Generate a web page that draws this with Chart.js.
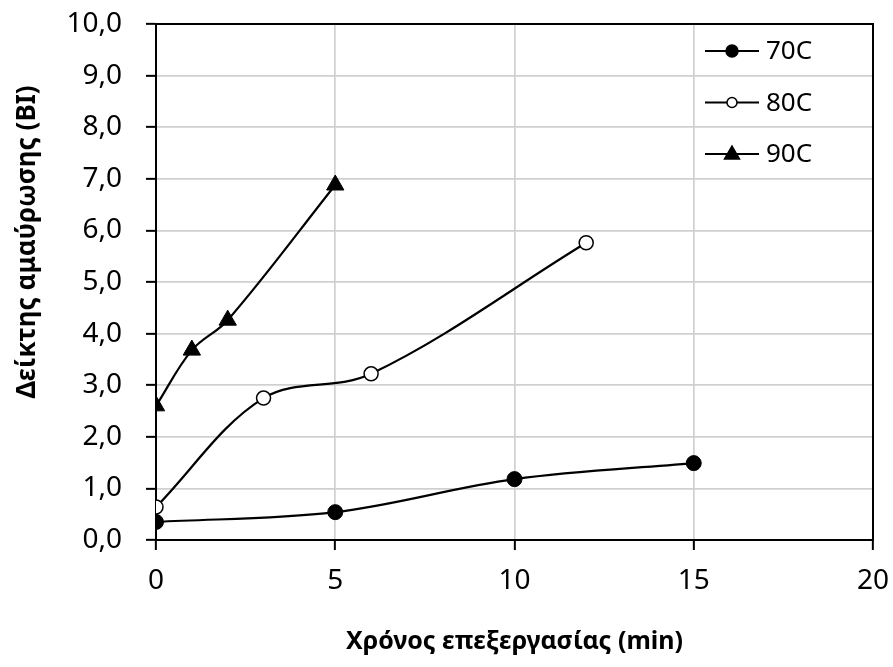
<!DOCTYPE html>
<html>
<head>
<meta charset="utf-8">
<script src="https://cdn.jsdelivr.net/npm/chart.js@4.4.1/dist/chart.umd.min.js"></script>
<style>
  html, body { margin: 0; padding: 0; background: #ffffff; }
  #wrap { width: 893px; height: 667px; }
</style>
</head>
<body>
<div id="wrap"><canvas id="grafico"></canvas></div>
<script>
// Datos
const tiempos70 = [0, 5, 10, 15];
const valores70 = [0.35, 0.54, 1.18, 1.49];
const tiempos80 = [0, 3, 6, 12];
const valores80 = [0.64, 2.75, 3.22, 5.76];
const tiempos90 = [0, 1, 2, 5];
const valores90 = [2.6, 3.68, 4.26, 6.88];
const etiquetas = ["70C", "80C", "90C"];
const tituloY = "Δείκτης αμαύρωσης (BI)";
const tituloX = "Χρόνος επεξεργασίας (min)";

const fuente = "'Noto Sans', sans-serif";

function puntos(xs, ys) {
  return xs.map((x, i) => ({ x: x, y: ys[i] }));
}

document.addEventListener("DOMContentLoaded", function () {
  const lienzo = document.getElementById("grafico");

  // Marco negro alrededor del área del gráfico
  const marco = {
    id: "marco",
    beforeDatasetsDraw: function (chart) {
      const a = chart.chartArea;
      const ctx = chart.ctx;
      ctx.save();
      ctx.strokeStyle = "#000000";
      ctx.lineWidth = 2;
      ctx.strokeRect(a.left, a.top, a.right - a.left, a.bottom - a.top);
      ctx.restore();
    },
  };

  // Leyenda dentro del área (arriba a la derecha) y título del eje Y
  const leyenda = {
    id: "leyenda",
    afterDatasetsDraw: function (chart) {
      const a = chart.chartArea;
      const ctx = chart.ctx;
      ctx.save();
      chart.data.datasets.forEach(function (ds, i) {
        const y = a.top + 27 + i * 51.5;
        const x0 = a.right - 168;
        const x1 = a.right - 114;
        const xm = (x0 + x1) / 2;
        ctx.strokeStyle = "#000000";
        ctx.lineWidth = 2;
        ctx.beginPath();
        ctx.moveTo(x0, y);
        ctx.lineTo(x1, y);
        ctx.stroke();
        ctx.fillStyle = ds.pointBackgroundColor;
        ctx.lineWidth = 1.5;
        ctx.beginPath();
        if (ds.pointStyle === "triangle") {
          ctx.moveTo(xm, y - 8);
          ctx.lineTo(xm + 7.5, y + 5);
          ctx.lineTo(xm - 7.5, y + 5);
          ctx.closePath();
        } else {
          ctx.arc(xm, y, ds.pointBackgroundColor === "#ffffff" ? 5 : 6, 0, Math.PI * 2);
        }
        ctx.fill();
        ctx.stroke();
        ctx.fillStyle = "#000000";
        ctx.font = "26px " + fuente;
        ctx.textBaseline = "middle";
        ctx.textAlign = "left";
        ctx.fillText(ds.label, a.right - 107, y + 1);
      });

      ctx.translate(28, 242);
      ctx.rotate(-Math.PI / 2);
      ctx.font = "bold 26px " + fuente;
      ctx.textAlign = "center";
      ctx.textBaseline = "middle";
      ctx.fillText(tituloY, 0, 0);
      ctx.restore();
    },
  };

  new Chart(lienzo, {
    type: "line",
    data: {
      datasets: [
        {
          label: etiquetas[0],
          data: puntos(tiempos70, valores70),
          borderColor: "#000000",
          borderWidth: 2.2,
          tension: 0.35,
          pointStyle: "circle",
          pointRadius: 7.5,
          pointBackgroundColor: "#000000",
          pointBorderColor: "#000000",
          pointBorderWidth: 1,
        },
        {
          label: etiquetas[1],
          data: puntos(tiempos80, valores80),
          borderColor: "#000000",
          borderWidth: 2.2,
          tension: 0.35,
          pointStyle: "circle",
          pointRadius: 7,
          pointBackgroundColor: "#ffffff",
          pointBorderColor: "#000000",
          pointBorderWidth: 1.5,
        },
        {
          label: etiquetas[2],
          data: puntos(tiempos90, valores90),
          borderColor: "#000000",
          borderWidth: 2.2,
          tension: 0.35,
          pointStyle: "triangle",
          pointRadius: 10,
          pointBackgroundColor: "#000000",
          pointBorderColor: "#000000",
          pointBorderWidth: 1,
        },
      ],
    },
    options: {
      responsive: true,
      maintainAspectRatio: false,
      animation: false,
      layout: { padding: { top: 24, right: 20, left: 0, bottom: 0 } },
      plugins: {
        legend: { display: false },
        tooltip: { enabled: false },
      },
      scales: {
        x: {
          type: "linear",
          min: 0,
          max: 20,
          afterFit: function (scale) {
            scale.height = 127;
            scale.paddingLeft = 0;
            scale.paddingRight = 0;
          },
          ticks: {
            stepSize: 5,
            color: "#000000",
            padding: 14,
            font: { family: fuente, size: 28 },
          },
          grid: {
            color: "#d0d0d0",
            lineWidth: 1.7,
            tickColor: "#000000",
            tickLength: 10,
            tickWidth: 2,
          },
          border: { color: "#000000", width: 2 },
          title: {
            display: true,
            text: tituloX,
            color: "#000000",
            font: { family: fuente, size: 25, weight: "bold" },
            padding: { top: 0, bottom: 10 },
          },
        },
        y: {
          type: "linear",
          min: 0,
          max: 10,
          afterFit: function (scale) {
            scale.width = 156;
            scale.paddingTop = 0;
            scale.paddingBottom = 0;
          },
          ticks: {
            stepSize: 1,
            color: "#000000",
            padding: 24,
            font: { family: fuente, size: 28 },
            callback: function (v) { return v.toFixed(1).replace(".", ","); },
          },
          grid: {
            color: "#d0d0d0",
            lineWidth: 1.7,
            tickColor: "#000000",
            tickLength: 10,
            tickWidth: 2,
          },
          border: { color: "#000000", width: 2 },
          title: { display: false },
        },
      },
    },
    plugins: [marco, leyenda],
  });
});
</script>
</body>
</html>
